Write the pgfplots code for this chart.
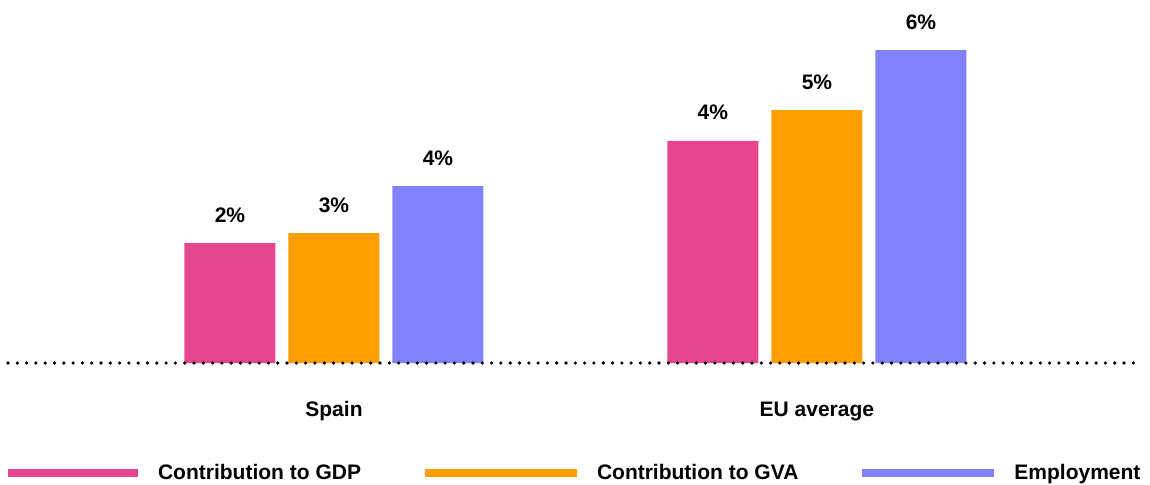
\documentclass[border=0pt]{standalone}
\usepackage{fontspec}
\setmainfont{Liberation Sans}
\usepackage{pgfplots}
\pgfplotsset{compat=1.18}

\definecolor{cgdp}{HTML}{E5468E}
\definecolor{cgva}{HTML}{FF9E00}
\definecolor{cemp}{HTML}{8282FF}

\begin{document}
\begin{tikzpicture}[font=\fontsize{21}{24}\selectfont\bfseries]
\begin{axis}[
  name=ax,
  scale only axis, width=1132pt, height=363pt,
  xmin=-0.675, xmax=1.669, ymin=0, ymax=6.96,
  ybar=13pt, bar width=91pt,
  axis x line=bottom, hide y axis,
  axis line style={-, line width=3.6pt, line cap=round, dash pattern=on 0pt off 9.3pt},
  axis on top,
  xtick={0,1}, xticklabels={Spain,EU average},
  xtick style={draw=none},
  xticklabel style={anchor=base, yshift=-51pt, inner sep=0pt},
  point meta=explicit symbolic,
  nodes near coords,
  nodes near coords style={anchor=base, yshift=21pt, inner sep=0pt, black},
  legend columns=3,
  legend style={at={(-0.0035,-0.303)}, anchor=west, draw=none, inner sep=0pt, outer sep=0pt,
    nodes={inner sep=0pt},
    /tikz/every odd column/.append style={column sep=16pt},
    /tikz/every even column/.append style={column sep=60pt}},
  legend cell align=left,
]
\addplot[fill=cgdp, draw=none,
  legend image code/.code={\draw[cgdp, line width=8pt] (0pt,0pt) -- (130pt,0pt);}]
  coordinates {(0,2.30) [2\%] (1,4.26) [4\%]};
\addlegendentry{Contribution to GDP}
\addplot[fill=cgva, draw=none,
  legend image code/.code={\draw[cgva, line width=8pt] (0pt,0pt) -- (152pt,0pt);}]
  coordinates {(0,2.49) [3\%] (1,4.85) [5\%]};
\addlegendentry{Contribution to GVA}
\addplot[fill=cemp, draw=none,
  legend image code/.code={\draw[cemp, line width=8pt] (0pt,0pt) -- (132pt,0pt);}]
  coordinates {(0,3.39) [4\%] (1,6.00) [6\%]};
\addlegendentry{Employment}
\end{axis}
\pgfresetboundingbox
\path[use as bounding box] ([shift={(-8pt,-121pt)}]ax.south west) rectangle ([shift={(10pt,0pt)}]ax.north east);
\end{tikzpicture}
\end{document}
